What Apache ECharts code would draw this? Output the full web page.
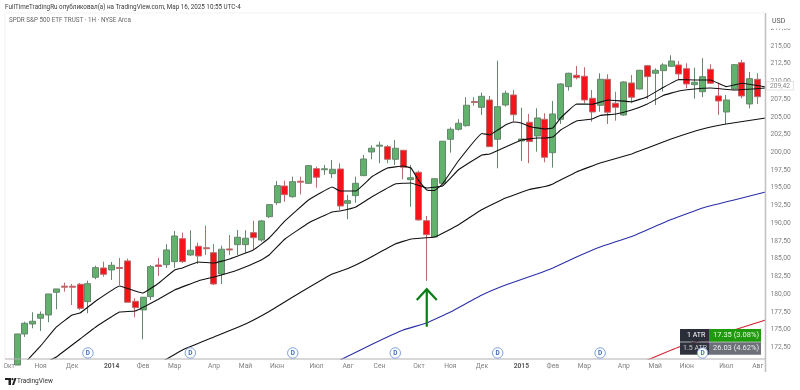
<!DOCTYPE html>
<html><head><meta charset="utf-8">
<style>html,body{margin:0;padding:0;background:#fff}#c{width:800px;height:390px}</style>
<script src="https://cdn.jsdelivr.net/npm/echarts@6/dist/echarts.min.js"></script>
</head><body><div id="c"></div>
<script>
// [open, close, low, high]
const candles = [
[170.0,174.38,170.0,174.38],[174.38,175.89,173.96,176.11],[175.79,176.17,175.18,177.44],[176.60,177.16,174.80,177.55],
[177.06,180.02,176.03,180.02],[180.26,180.73,177.86,180.73],[181.12,180.98,180.35,181.62],[181.12,180.98,178.47,181.43],
[181.39,178.0,177.77,181.57],[178.94,181.47,177.30,181.90],[182.38,183.73,182.10,184.01],[183.69,182.80,182.46,184.58],
[183.41,184.07,182.0,184.54],[183.76,183.62,181.29,185.10],[184.68,178.85,178.85,185.0],[178.99,178.09,176.74,179.41],
[177.77,179.56,173.63,179.6],[179.64,183.87,179.18,184.11],[184.11,183.90,182.56,185.10],[184.15,186.23,183.69,187.03],
[184.58,188.20,183.69,188.91],[187.82,184.58,184.39,188.67],[185.52,186.19,185.38,189.01],[186.75,185.38,184.25,187.26],
[186.54,186.40,185.52,189.66],[185.85,181.43,181.29,187.07],[182.84,186.33,181.43,186.83],[186.37,186.23,185.52,188.34],
[186.98,188.02,185.52,189.05],[186.98,187.88,185.80,189.01],[188.67,187.96,186.23,190.36],[187.64,190.32,187.40,190.46],
[190.92,192.62,190.74,192.72],[192.90,195.30,192.58,195.96],[195.25,194.03,193.04,196.0],[193.74,195.86,193.60,196.57],
[195.93,195.79,194.08,196.57],[195.63,198.12,195.54,198.19],[197.70,196.48,195.01,197.98],[197.54,197.68,196.80,198.22],
[196.99,197.61,196.38,198.92],[197.65,192.43,191.87,198.46],[192.81,193.18,190.56,193.98],[193.89,195.63,192.90,196.57],
[196.71,199.06,196.66,199.63],[200.05,200.57,199.02,200.99],[200.87,201.01,198.46,201.50],[200.80,199.02,198.46,201.04],
[199.02,200.57,198.22,201.74],[200.29,197.89,196.20,200.33],[196.14,196.42,192.33,198.22],[197.19,190.46,190.39,197.41],
[190.36,188.39,181.86,191.02],[188.06,196.28,188.0,196.3],[195.63,201.56,195.6,201.6],[201.84,203.25,199.95,203.53],
[203.25,204.10,203.05,204.66],[203.76,206.64,203.62,207.77],[207.17,207.03,206.58,207.77],[206.35,207.90,205.27,208.41],
[207.38,200.80,200.75,207.95],[201.84,206.44,197.75,212.93],[206.68,208.33,206.44,208.70],[208.09,205.31,204.32,208.79],
[201.60,201.88,198.78,206.30],[204.24,201.53,198.46,205.41],[202.31,204.85,200.09,206.21],[204.66,199.30,198.60,205.51],
[199.95,205.41,197.84,207.24],[204.66,209.64,204.0,209.74],[209.26,211.15,208.70,211.23],[210.87,210.53,210.30,212.18],
[210.73,207.38,206.92,212.0],[207.62,205.69,204.32,208.79],[206.64,210.30,205.73,211.15],[210.30,205.65,204.0,211.01],
[206.92,206.35,204.46,208.55],[205.27,209.92,205.17,210.02],[209.78,207.77,206.92,210.91],[208.93,211.57,208.89,211.62],
[212.22,210.67,207.52,212.32],[211.15,211.57,206.68,211.85],[211.52,212.32,208.55,212.56],[212.14,212.88,212.08,213.69],
[212.32,211.05,210.30,212.88],[211.80,209.64,209.03,212.56],[209.54,209.88,207.57,211.94],[208.55,210.67,207.77,213.27],
[211.71,209.74,209.64,212.42],[207.95,207.24,205.27,209.74],[205.69,207.38,204.0,208.09],[208.93,212.36,208.89,212.46],
[212.64,207.95,207.62,213.03],[206.82,210.39,206.21,211.33],[210.30,207.85,206.82,211.15]
];
// moving averages: [candle number, price]
const maFast = [[1,170.3],[3,172.69],[5,175.37],[7,177.06],[8,177.34],[10,179.03],[13,181.15],[15,180.45],[16,180.16],[18,181.57],[20,183.41],[21,183.69],[23,184.54],[25,184.39],[27,184.96],[30,186.23],[32,187.92],[34,190.32],[37,193.28],[40,195.11],[41,194.55],[43,194.55],[45,196.52],[47,197.79],[49,198.07],[50,197.79],[51,195.96],[52,194.69],[53,194.62],[54,195.54],[56,198.78],[59,202.66],[60,202.45],[61,203.15],[62,203.86],[63,204.28],[64,204.14],[65,203.65],[67,203.29],[68,203.43],[69,204.85],[71,206.82],[73,206.78],[75,207.38],[78,207.14],[80,207.85],[82,209.15],[84,210.28],[86,210.20],[88,210.20],[90,209.26],[92,209.74],[95,209.22]];
const maMid = [[4,170.57],[5,171.14],[8,173.67],[10,175.37],[13,177.48],[15,177.62],[18,179.32],[20,180.59],[23,181.86],[25,182.42],[28,183.41],[31,184.82],[32,185.52],[34,187.78],[37,190.04],[40,191.59],[41,191.73],[43,192.29],[45,193.70],[48,195.54],[50,195.68],[52,194.97],[54,195.25],[56,197.51],[59,199.63],[60,199.77],[62,200.75],[64,201.74],[66,202.02],[67,202.02],[68,202.16],[69,203.15],[71,204.42],[73,204.70],[74,205.20],[76,205.41],[78,205.97],[80,206.82],[82,208.02],[84,208.65],[86,208.93],[88,209.08],[91,208.79],[95,209.08]];
const maSlow = [[18,170.29],[19,170.85],[21,172.12],[25,173.96],[29,175.79],[32,177.55],[35,179.60],[40,182.84],[42,183.62],[44,184.68],[48,187.07],[50,187.78],[53,188.06],[56,189.75],[59,191.94],[62,193.56],[65,194.76],[67,195.18],[68,195.54],[71,197.23],[74,198.50],[78,199.77],[80,200.61],[83,201.88],[87,203.29],[90,204.0],[95,204.85]];
const maBlue = [[41,170.71],[45,172.90],[49,174.94],[52,175.93],[55,177.48],[59,179.88],[62,181.29],[66,182.84],[68,183.69],[71,185.24],[74,186.65],[78,188.13],[83,190.53],[87,192.15],[91,193.28],[95,194.40]];
const maRed = [[80,170.71],[84,172.55],[91,174.94],[95,176.36]];
const dividendCandles = [9,22,35,48,61,74,87];
const monthLabels = [[-1,'Окт'],[3,'Ноя'],[7,'Дек'],[12,'2014'],[16,'Фев'],[20,'Мар'],[25,'Апр'],[29,'Май'],[33,'Июн'],[38,'Июл'],[42,'Авг'],[46,'Сен'],[51,'Окт'],[55,'Ноя'],[59,'Дек'],[64,'2015'],[68,'Фев'],[72,'Мар'],[77,'Апр'],[81,'Май'],[85,'Июн'],[90,'Июл'],[94,'Авг']];
const priceTicks = [172.5,175,177.5,180,182.5,185,187.5,190,192.5,195,197.5,200,202.5,205,207.5,210,212.5,215,217.5];
const lastPrice = 209.42;
const arrow = {candle:52, tip:180.7, tail:175.4, head:179.18};
const atrRows = [['1 ATR','17.35 (3.08%)'],['1.5 ATR','26.03 (4.62%)']];

const FONT = 'Roboto, "Noto Sans", sans-serif';
const slots = 97; // one blank slot before and after the candles
const categories = new Array(slots).fill('');
monthLabels.forEach(([i,t]) => categories[i+1] = t);
const shift = a => a.map(([i,v]) => [i+1,v]);
const candleData = [['-','-','-','-']].concat(candles, [['-','-','-','-']]);

const chart = echarts.init(document.getElementById('c'), null, {renderer:'canvas'});
const lineSeries = (data,color) => ({type:'line',data:shift(data),symbol:'none',smooth:0.08,z:4,silent:true,
  lineStyle:{color:color,width:1.1},animation:false});

chart.setOption({
  animation:false,
  backgroundColor:'#fff',
  title:[
    {text:'FullTimeTradingRu опубликовал(а) на TradingView.com, Мар 16, 2025 10:55 UTC-4',left:5,top:4,padding:0,
     textStyle:{fontFamily:FONT,fontSize:6.3,fontWeight:'normal',color:'#3a3a3a'}},
    {text:'SPDR S&P 500 ETF TRUST · 1H · NYSE Arca',left:9,top:17,padding:0,
     textStyle:{fontFamily:FONT,fontSize:6.3,fontWeight:'normal',color:'#666'}}
  ],
  grid:{left:5.18,right:30.46,top:13,bottom:31,containLabel:false},
  xAxis:{type:'category',data:categories,boundaryGap:true,
    axisLine:{show:false},axisTick:{show:false},splitLine:{show:false},
    axisLabel:{interval:0,margin:4,fontFamily:FONT,fontSize:6.7,color:'#808080',
      formatter:v=>/^\d{4}$/.test(v)?'{y|'+v+'}':v,
      rich:{y:{fontFamily:FONT,fontSize:6.7,fontWeight:'bold',color:'#5a5a5a'}}}},
  yAxis:{type:'value',position:'right',offset:-4.5,min:170.85,max:219.65,scale:true,
    axisLine:{show:false},axisTick:{show:false},splitLine:{show:false},
    axisLabel:{customValues:priceTicks,margin:5.5,fontFamily:FONT,fontSize:6.7,color:'#808080',
      formatter:v=>v.toFixed(2).replace('.',',')}},
  series:[
    {type:'candlestick',data:candleData,barWidth:6.5,z:3,silent:true,
     itemStyle:{color:'#62b16c',color0:'#f5141a',borderColor:'#66866d',borderColor0:'#bb6a6e',borderWidth:1}},
    lineSeries(maFast,'#111'),lineSeries(maMid,'#111'),lineSeries(maSlow,'#111'),
    lineSeries(maBlue,'#2b2fa8'),lineSeries(maRed,'#d3202e'),
    {type:'custom',z:6,silent:true,data:[[arrow.candle+1,arrow.tip,arrow.tail,arrow.head]],
     renderItem:(p,api)=>{
       const tip=api.coord([api.value(0),api.value(1)]),tail=api.coord([api.value(0),api.value(2)]),h=api.coord([api.value(0),api.value(3)]);
       const st={stroke:'#0b7d17',lineWidth:2.2,fill:null};
       return {type:'group',children:[
         {type:'line',shape:{x1:tip[0],y1:tip[1],x2:tail[0],y2:tail[1]},style:st},
         {type:'polyline',shape:{points:[[tip[0]-10,h[1]],tip,[tip[0]+10,h[1]]]},style:st}
       ]};
     }},
    {type:'scatter',z:20,zlevel:1,silent:true,symbol:'circle',symbolSize:10.5,
     data:dividendCandles.map(i=>[i+1,171.7]),
     itemStyle:{color:'#fff',borderColor:'#7ea1dc',borderWidth:1,opacity:1},
     label:{show:true,position:'inside',formatter:'D',fontFamily:FONT,fontSize:6.5,fontWeight:'bold',color:'#3f6fc0'}}
  ]
});

const py = chart.convertToPixel({yAxisIndex:0}, lastPrice);
const cell = (x,y,w,h,fill)=>({type:'rect',shape:{x,y,width:w,height:h},style:{fill},z:10});
const txt = (x,y,t,color,size)=>({type:'text',x,y,style:{text:t,fill:color,font:(size||7.5)+'px '+FONT,textVerticalAlign:'middle'},z:13});
const ln = (x1,y1,x2,y2,c,w)=>({type:'line',shape:{x1,y1,x2,y2},style:{stroke:c,lineWidth:w},z:9});
chart.setOption({graphic:{elements:[
  ln(5,13,765,13,'#f3f3f3',1),
  ln(5,13,5,359,'#f1f1f1',1),
  ln(5,359,765,359,'#b0b0b0',1),
  ln(765.5,13,765.5,372,'#c0c0c0',1.5),
  {type:'rect',shape:{x:767,y:13,width:33,height:15.5},style:{fill:'#fff'},z:12},
  txt(772,21.5,'USD','#555',7),
  {type:'rect',shape:{x:766.5,y:py-4,width:27,height:8.5},style:{fill:'#fff',stroke:'#d2d2d2',lineWidth:0.6},z:12},
  txt(770,py+0.3,lastPrice.toFixed(2).replace('.',','),'#8a8a8a',6.7),
  cell(680,329,29,12.7,'#2a2e39'),cell(709,329,52,12.7,'#1f9a0d'),
  cell(680,342.3,29,12.4,'#2f323d'),cell(709,342.3,52,12.4,'#6d6f79'),
  txt(687,335.5,atrRows[0][0],'#fff',7),txt(713,335.5,atrRows[0][1],'#e8f5e4'),
  txt(683,348.5,atrRows[1][0],'#d0d0d4',7),txt(713,348.5,atrRows[1][1],'#eee'),
  {type:'polygon',shape:{points:[[5,378],[11,378],[11,385],[8.5,385],[8.5,380],[5,380]]},style:{fill:'#222'},z:10},
  {type:'polygon',shape:{points:[[12,385],[14.5,378],[16.5,378],[14,385]]},style:{fill:'#222'},z:10},
  {type:'circle',shape:{cx:12.4,cy:379.2,r:1.1},style:{fill:'#222'},z:10},
  txt(17,381.5,'TradingView','#333',6.5)
]}});
</script></body></html>
